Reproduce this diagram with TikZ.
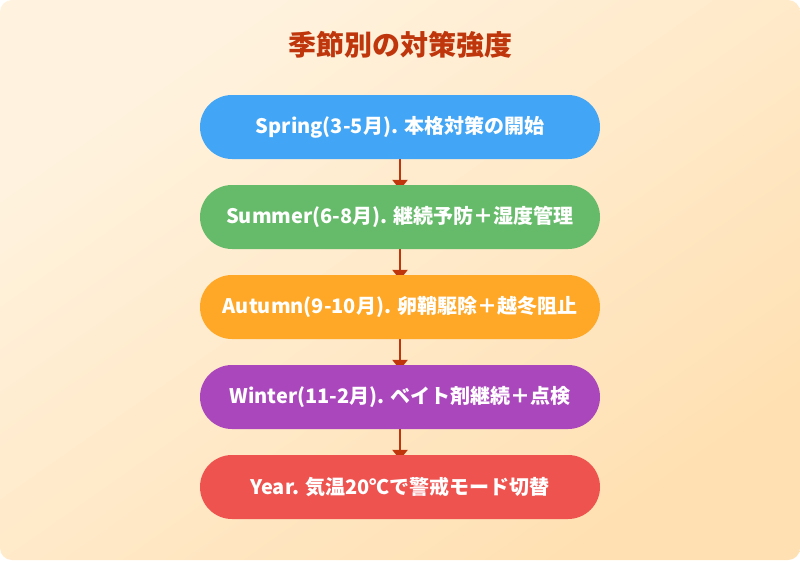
\documentclass[tikz,border=0pt]{standalone}
\usepackage{fontspec}
\setmainfont{Noto Sans CJK JP}
\usetikzlibrary{arrows.meta,shapes.misc}
\pgfdeclarelayer{bg}
\pgfdeclarelayer{arr}
\pgfsetlayers{bg,arr,main}
\definecolor{bgA}{HTML}{FFF3E0}
\definecolor{bgB}{HTML}{FFE0B2}
\definecolor{titlec}{HTML}{BF360C}
\definecolor{arrowc}{HTML}{BF360C}
\definecolor{cBlue}{HTML}{42A5F5}
\definecolor{cGreen}{HTML}{66BB6A}
\definecolor{cOrange}{HTML}{FFA726}
\definecolor{cPurple}{HTML}{AB47BC}
\definecolor{cRed}{HTML}{EF5350}
\tikzset{
  pill/.style={rounded rectangle, minimum width=400pt, minimum height=64pt, inner sep=0pt,
    text=white, font=\fontsize{20pt}{24pt}\selectfont\bfseries},
  flow/.style={draw=arrowc, line width=2.5pt, -{Triangle[width=15pt,length=10pt]}},
}
\begin{document}
\begin{tikzpicture}[x=1pt,y=-1pt]
\useasboundingbox (0,0) rectangle (800,560);
\begin{pgfonlayer}{bg}
\shade[rounded corners=12pt, top color=bgA, bottom color=bgB, shading angle=35] (0,0) rectangle (800,560);
\end{pgfonlayer}
\node[text=titlec, font=\fontsize{28pt}{32pt}\selectfont\bfseries] (title) at (400,45) {季節別の対策強度};
\node[pill, fill=cBlue] (spring) at (400,127) {Spring(3-5月). 本格対策の開始};
\node[pill, fill=cGreen] (summer) at (400,217) {Summer(6-8月). 継続予防＋湿度管理};
\node[pill, fill=cOrange] (autumn) at (400,307) {Autumn(9-10月). 卵鞘駆除＋越冬阻止};
\node[pill, fill=cPurple] (winter) at (400,397) {Winter(11-2月). ベイト剤継続＋点検};
\node[pill, fill=cRed] (year) at (400,487) {Year. 気温20℃で警戒モード切替};
\begin{pgfonlayer}{arr}
\draw[flow] (spring.south) -- ([yshift=-5pt]summer.north);
\draw[flow] (summer.south) -- ([yshift=-5pt]autumn.north);
\draw[flow] (autumn.south) -- ([yshift=-5pt]winter.north);
\draw[flow] (winter.south) -- ([yshift=-5pt]year.north);
\end{pgfonlayer}
\end{tikzpicture}
\end{document}
